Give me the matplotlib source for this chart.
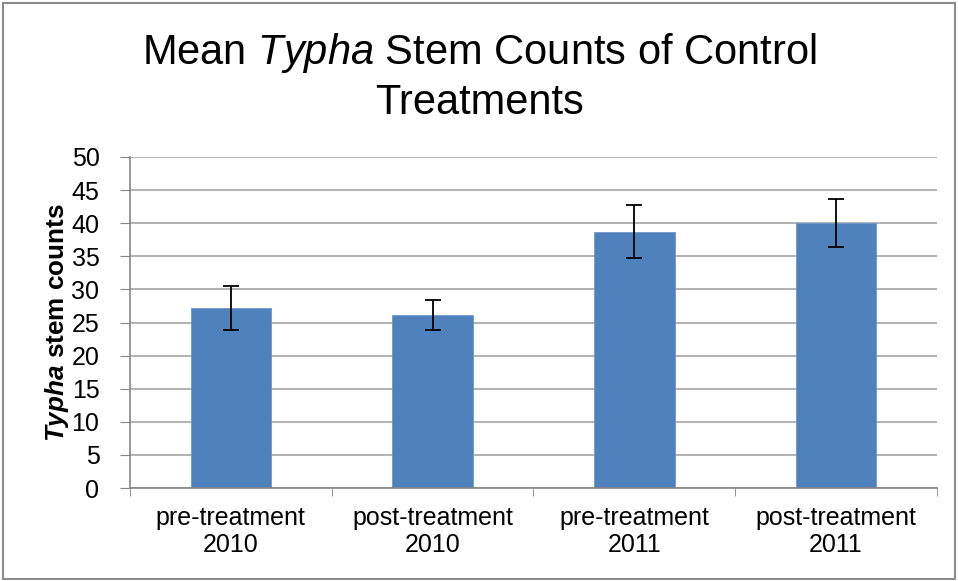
import numpy as np
import matplotlib
matplotlib.use('Agg')
import matplotlib.pyplot as plt
from matplotlib.patches import Rectangle

plt.rcParams['font.family'] = 'Liberation Sans'
plt.rcParams['mathtext.fontset'] = 'custom'
plt.rcParams['mathtext.rm'] = 'Liberation Sans'
plt.rcParams['mathtext.it'] = 'Liberation Sans:italic'
plt.rcParams['mathtext.bf'] = 'Liberation Sans:bold'
plt.rcParams['mathtext.bfit'] = 'Liberation Sans:italic:bold'

categories = ['pre-treatment\n2010', 'post-treatment\n2010',
              'pre-treatment\n2011', 'post-treatment\n2011']
means = [27.2, 26.1, 38.7, 40.0]
errors = [3.3, 2.3, 4.0, 3.6]

fig = plt.figure(figsize=(9.58, 5.81), dpi=100)
ax = fig.add_axes([0.1357, 0.160, 0.978 - 0.1357, 0.7298 - 0.160])

x = np.arange(len(categories))
ax.set_axisbelow(True)
ax.yaxis.grid(True, color='#a6a6a6', linewidth=1.2)
ax.bar(x, means, width=0.4, color='#4f81bd', edgecolor='#6d97cc', linewidth=0.6, zorder=2)
ax.errorbar(x, means, yerr=errors, fmt='none', ecolor='black',
            elinewidth=1.3, capsize=6, capthick=1.3, zorder=3)

ax.set_xlim(-0.5, len(categories) - 0.5)
ax.set_ylim(0, 50)
ax.set_yticks(np.arange(0, 51, 5))
ax.set_xticks(x)
ax.set_xticklabels(categories, fontsize=18, linespacing=1.15)
ax.set_xticks(np.arange(-0.5, len(categories), 1), minor=True)
ax.tick_params(axis='x', which='major', length=0, pad=13)
ax.tick_params(axis='x', which='minor', length=6, color='#868686', direction='out')
ax.tick_params(axis='y', labelsize=18, length=7, color='#868686', pad=15)

for s in ['top', 'right']:
    ax.spines[s].set_visible(False)
for s in ['left', 'bottom']:
    ax.spines[s].set_color('#868686')
    ax.spines[s].set_linewidth(1.2)

ax.set_ylabel(r'$\mathbfit{Typha}$ stem counts', fontsize=18.8, fontweight='bold', labelpad=0)

fig.text(0.5, 0.867, 'Mean $\\it{Typha}$ Stem Counts of Control\nTreatments',
         ha='center', va='center', fontsize=30, linespacing=1.25)

fig.patches.append(Rectangle((0.003, 0.003), 0.994, 0.992, transform=fig.transFigure,
                             fill=False, edgecolor='#8c8c8c', linewidth=1.5))

fig.savefig('out.png', dpi=100)
